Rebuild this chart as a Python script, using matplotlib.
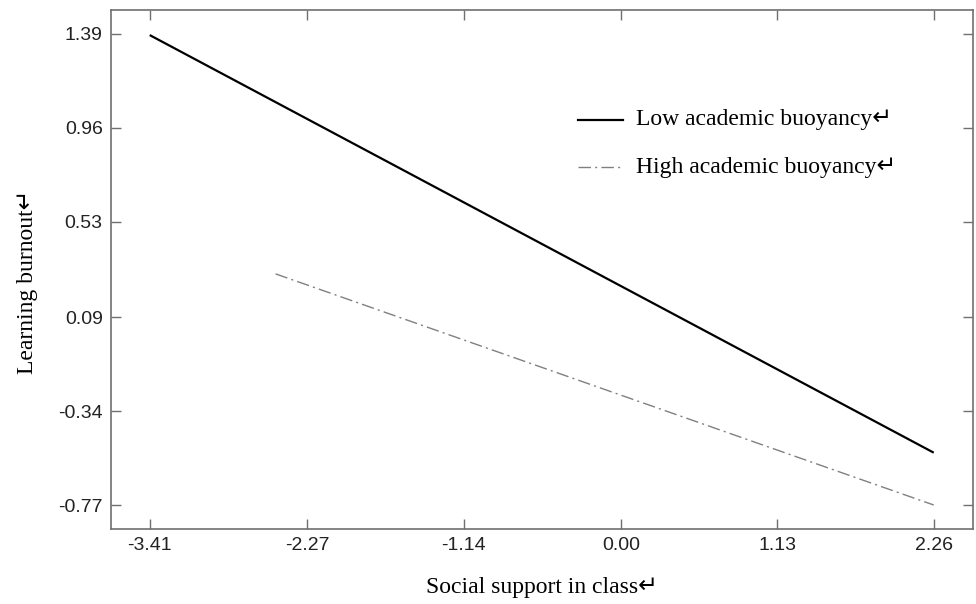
import matplotlib
matplotlib.use("Agg")
import matplotlib.pyplot as plt

# simple slopes
x_low = [-3.41, 2.26]
y_low = [1.385, -0.53]
x_high = [-2.50, 2.26]
y_high = [0.29, -0.77]

xticks = [-3.41, -2.27, -1.14, 0.00, 1.13, 2.26]
yticks = [-0.77, -0.34, 0.09, 0.53, 0.96, 1.39]

serif = ['Liberation Serif', 'DejaVu Sans']
sans = ['Liberation Sans', 'DejaVu Sans']

fig = plt.figure(figsize=(9.76, 6.04), dpi=100)
ax = fig.add_axes([111/976, 1 - 529/604, (973-111)/976, (529-10)/604])

ax.plot(x_low, y_low, color='black', lw=1.6, solid_capstyle='butt')
ax.plot(x_high, y_high, color='#808080', lw=1.0, linestyle=(0, (9, 3, 1.5, 3)))

ax.set_xlim(-3.69, 2.544)
ax.set_ylim(-0.88, 1.50)
ax.set_xticks(xticks)
ax.set_xticklabels(['%.2f' % v for v in xticks], family=sans, fontsize=14)
ax.set_yticks(yticks)
ax.set_yticklabels(['%.2f' % v for v in yticks], family=sans, fontsize=14)
ax.tick_params(direction='in', length=7, width=1, color='#707070',
               top=True, right=True, pad=6, labelcolor='#222222')

for s in ax.spines.values():
    s.set_color('#707070')
    s.set_linewidth(1.2)

ax.set_xlabel('Social support in class\u21b5', family=serif, fontsize=17, labelpad=16)
ax.set_ylabel('Learning burnout\u21b5', family=serif, fontsize=17)
ax.yaxis.set_label_coords(-(111-38)/862, 1 - (282-10)/519)

# legend drawn by hand in axes coords
lx0, lx1, tx = (578-111)/862, (623-111)/862, (636-111)/862
for ypx, ls, col, lw, lab in [(120, '-', 'black', 1.6, 'Low academic buoyancy\u21b5'),
                              (167, (0, (9, 3, 1.5, 3)), '#808080', 1.0, 'High academic buoyancy\u21b5')]:
    yy = 1 - (ypx - 10) / 519
    ax.plot([lx0, lx1], [yy, yy], transform=ax.transAxes, color=col, lw=lw, linestyle=ls)
    ax.text(tx, yy, lab, transform=ax.transAxes, va='center', ha='left',
            family=serif, fontsize=17)

fig.savefig('out.png', dpi=100)
